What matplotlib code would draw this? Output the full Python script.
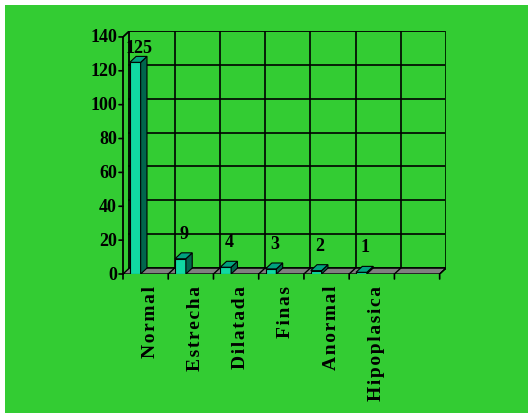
import matplotlib
matplotlib.use('Agg')
import matplotlib.pyplot as plt
from matplotlib.patches import Rectangle, Polygon

# Data
categories = ['Normal', 'Estrecha', 'Dilatada', 'Finas', 'Anormal', 'Hipoplasica']
counts = [125, 9, 4, 3, 2, 1]
y_ticks = [0, 20, 40, 60, 80, 100, 120, 140]

BG = '#33CC33'
FRONT = '#10D9A2'
SIDE = '#00664D'
TOP = '#00A27F'
FLOOR = '#808080'

n_slots = 7
ymax = 140
dx, dy = 0.14, 3.5          # depth offset of the 3D box in data units
bar_x0, bar_w = 0.15, 0.24  # bar position inside each slot

plt.rcParams['font.family'] = ['Liberation Serif', 'DejaVu Sans']
plt.rcParams['font.weight'] = 'bold'

fig = plt.figure(figsize=(5.28, 4.14), dpi=100)
fig.patch.set_facecolor('white')
fig.patches.append(Rectangle((5 / 528, 0), 1, 408 / 414, transform=fig.transFigure,
                             facecolor=BG, edgecolor='none', zorder=-10))

ax = fig.add_axes([123 / 528, 139 / 414, 323 / 528, 243 / 414])
ax.set_xlim(0, n_slots + dx)
ax.set_ylim(0, ymax + dy)
ax.axis('off')
ax.patch.set_visible(False)

# back wall and grid
ax.add_patch(Rectangle((dx, dy), n_slots, ymax, fill=False, edgecolor='black', lw=1.3, zorder=1))
for v in y_ticks[1:-1]:
    ax.plot([dx, n_slots + dx], [v + dy, v + dy], color='black', lw=1.2, zorder=1)
for i in range(1, n_slots):
    ax.plot([i + dx, i + dx], [dy, ymax + dy], color='black', lw=1.2, zorder=1)
ax.plot([n_slots + dx] * 2, [dy, ymax + dy], color='#003300', lw=2, zorder=1)

# floor
ax.add_patch(Polygon([(0, 0), (n_slots, 0), (n_slots + dx, dy), (dx, dy)],
                     closed=True, facecolor=FLOOR, edgecolor='black', lw=1, zorder=2))
for i in range(1, n_slots + 1):
    ax.plot([i, i + dx], [0, dy], color='black', lw=1, zorder=2)

# value axis
ax.plot([0, 0], [0, ymax], color='black', lw=1.3, zorder=3, clip_on=False)
ax.plot([0, dx], [ymax, ymax + dy], color='black', lw=1.3, zorder=3)
for v in y_ticks:
    ax.annotate('', xy=(0, v), xytext=(-4, 0), textcoords='offset pixels',
                arrowprops=dict(arrowstyle='-', color='black', lw=1.2,
                                shrinkA=0, shrinkB=0), annotation_clip=False)
    ax.annotate(str(v), xy=(0, v), xytext=(-6, 0), textcoords='offset pixels',
                ha='right', va='center', fontsize=13, fontweight='bold',
                annotation_clip=False)

# category axis ticks
for i in range(n_slots + 1):
    ax.annotate('', xy=(i, 0), xytext=(0, -5), textcoords='offset pixels',
                arrowprops=dict(arrowstyle='-', color='black', lw=1.2,
                                shrinkA=0, shrinkB=0), annotation_clip=False)

# bars with side and top faces
xs = [i + bar_x0 for i in range(len(counts))]
ax.bar(xs, counts, width=bar_w, align='edge', color=FRONT,
       edgecolor='black', lw=0.8, zorder=4)
for x0, v in zip(xs, counts):
    x1 = x0 + bar_w
    ax.add_patch(Polygon([(x1, 0), (x1 + dx, dy), (x1 + dx, v + dy), (x1, v)],
                         closed=True, facecolor=SIDE, edgecolor='black', lw=0.8, zorder=4))
    ax.add_patch(Polygon([(x0, v), (x1, v), (x1 + dx, v + dy), (x0 + dx, v + dy)],
                         closed=True, facecolor=TOP, edgecolor='black', lw=0.8, zorder=4))
    ax.text(x0 + 0.2, min(v + 15, 134), str(v), ha='center', va='center',
            fontsize=13, fontweight='bold', zorder=5)

# letter-spaced category names
for i, name in enumerate(categories):
    ax.annotate('\u200a'.join(name), xy=(i + 0.6, 0), xytext=(0, -11), textcoords='offset pixels',
                rotation=90, ha='center', va='top', fontsize=14, fontweight='bold',
                annotation_clip=False)

fig.savefig('out.png', dpi=100, facecolor=fig.get_facecolor())
